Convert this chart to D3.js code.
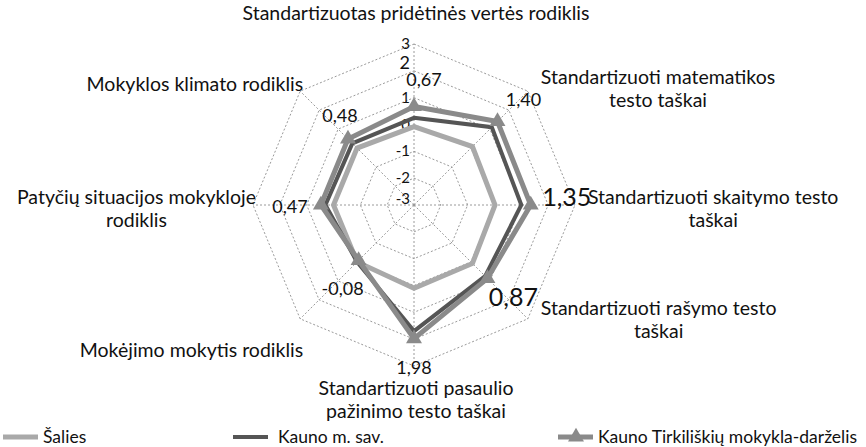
<!DOCTYPE html>
<html>
<head>
<meta charset="utf-8">
<script src="https://cdn.jsdelivr.net/npm/d3@7"></script>
<style>
  body { margin: 0; background: #fff; }
  text { font-family: Lato, "Open Sans", sans-serif; fill: #111; }
</style>
</head>
<body>
<script>
// Categories (clockwise from the top), split into lines as in the picture
var categories = [
    ["Standartizuotas pridėtinės vertės rodiklis"],
    ["Standartizuoti matematikos", "testo taškai"],
    ["Standartizuoti skaitymo testo", "taškai"],
    ["Standartizuoti rašymo testo", "taškai"],
    ["Standartizuoti pasaulio", "pažinimo testo taškai"],
    ["Mokėjimo mokytis rodiklis"],
    ["Patyčių situacijos mokykloje", "rodiklis"],
    ["Mokyklos klimato rodiklis"]
];

// Series values
var salies = [-0.08, 0.08, 0.02, 0.08, 0.10, 0.00, 0.00, 0.00];
var kaunas = [0.25, 1.10, 1.00, 0.75, 1.70, 0.00, 0.30, 0.25];
var mokykla = [0.67, 1.40, 1.35, 0.87, 1.98, -0.08, 0.47, 0.48];

var seriesNames = ["Šalies", "Kauno m. sav.", "Kauno Tirkiliškių mokykla-darželis"];
var tickValues = [3, 2, 1, 0, -1, -2, -3];

var width = 866;
var height = 447;
var cx = 414, cy = 205, radius = 161;

var svg = d3.select("body")
    .append("svg")
    .attr("width", width)
    .attr("height", height);

var g = svg.append("g")
    .attr("transform", "translate(" + cx + ", " + cy + ")");

// SCALES
var r = d3.scaleLinear().domain([-3, 3]).range([0, radius]);
var step = 2 * Math.PI / categories.length;

function pt(i, v) {
    var a = i * step;
    return [Math.sin(a) * r(v), -Math.cos(a) * r(v)];
}

var radial = d3.lineRadial()
    .angle((d, i) => i * step)
    .radius((d) => r(d))
    .curve(d3.curveLinearClosed);

var fmt = (d) => d3.format(".2f")(d).replace(".", ",").replace("−", "-");

//---GRID
tickValues.filter((t) => t > -3).forEach((t) => {
    g.append("path")
        .attr("d", radial(categories.map(() => t)))
        .attr("fill", "none")
        .attr("stroke", "#9a9a9a")
        .attr("stroke-width", 1)
        .attr("stroke-dasharray", "2,2");
});
categories.forEach((c, i) => {
    var p = pt(i, 3);
    g.append("line")
        .attr("x1", 0).attr("y1", 0)
        .attr("x2", p[0]).attr("y2", p[1])
        .attr("stroke", "#9a9a9a")
        .attr("stroke-width", 1)
        .attr("stroke-dasharray", "2,2");
});

// tick labels on the top spoke
g.selectAll(".tick-label")
    .data(tickValues)
    .enter()
    .append("text")
    .attr("class", "tick-label")
    .attr("x", -4)
    .attr("y", (d) => -r(d) + (d === -3 ? -1 : d === 2 ? -2 : 5))
    .attr("text-anchor", "end")
    .attr("font-size", (d) => d === 2 ? "18px" : "15px")
    .text((d) => d);

//---SERIES
var series = [
    { name: seriesNames[0], values: salies, color: "#a9a9a9", w: 5 },
    { name: seriesNames[1], values: kaunas, color: "#555555", w: 4 },
    { name: seriesNames[2], values: mokykla, color: "#8a8a8a", w: 5, marker: true }
];

series.forEach((s) => {
    g.append("path")
        .attr("d", radial(s.values))
        .attr("fill", "none")
        .attr("stroke", s.color)
        .attr("stroke-width", s.w)
        .attr("stroke-linejoin", "miter");
});

var tri = d3.symbol().type(d3.symbolTriangle).size(110);
g.selectAll(".marker")
    .data(mokykla)
    .enter()
    .append("path")
    .attr("class", "marker")
    .attr("d", tri)
    .attr("transform", (d, i) => "translate(" + pt(i, d) + ")")
    .attr("fill", "#8a8a8a");

//---DATA LABELS (school series)
var valueOffsets = [[10, -27], [26, -22], [36, -8], [26, 19], [0, 29], [-16, 28], [-31, 2], [-8, -23]];
var bigLabels = [2, 3];
g.selectAll(".value-label")
    .data(mokykla)
    .enter()
    .append("text")
    .attr("class", "value-label")
    .attr("x", (d, i) => pt(i, d)[0] + valueOffsets[i][0])
    .attr("y", (d, i) => pt(i, d)[1] + valueOffsets[i][1])
    .attr("dy", "0.35em")
    .attr("text-anchor", "middle")
    .attr("font-size", (d, i) => bigLabels.indexOf(i) >= 0 ? "25px" : "18px")
    .text(fmt);

//---CATEGORY LABELS
var lineH = 23;
var labelDy = [-30, -1, 5, 2, 35, 33, 5, -6];
categories.forEach((lines, i) => {
    var v = pt(i, 3);
    var t = g.append("text")
        .attr("font-size", "19.5px")
        .attr("text-anchor", "middle");
    lines.forEach((l) => {
        t.append("tspan").text(l);
    });
    // width of the widest line
    var w = d3.max(t.selectAll("tspan").nodes(), (n) => n.getComputedTextLength());
    var bx;
    if (Math.abs(v[0]) < 1) bx = v[0] + 2;
    else if (v[0] > 0) bx = v[0] + 13 + w / 2;
    else bx = v[0] + 3 - w / 2;
    var top = v[1] + labelDy[i] - (lines.length * lineH) / 2;
    t.selectAll("tspan")
        .attr("x", bx)
        .attr("y", (d, k) => top + lineH * k + 17);
});

//---LEGEND
var legendX = [3, 233, 558];
var legend = svg.append("g").attr("transform", "translate(0, 437)");
series.forEach((s, i) => {
    legend.append("line")
        .attr("x1", legendX[i]).attr("x2", legendX[i] + 35)
        .attr("y1", 0).attr("y2", 0)
        .attr("stroke", s.color)
        .attr("stroke-width", s.w);
    if (s.marker) {
        legend.append("path")
            .attr("d", tri)
            .attr("transform", "translate(" + (legendX[i] + 18) + ",0)")
            .attr("fill", s.color);
    }
    legend.append("text")
        .attr("x", legendX[i] + (i === 1 ? 45 : 40))
        .attr("y", 6)
        .attr("font-size", "17.5px")
        .text(s.name);
});
</script>
</body>
</html>
